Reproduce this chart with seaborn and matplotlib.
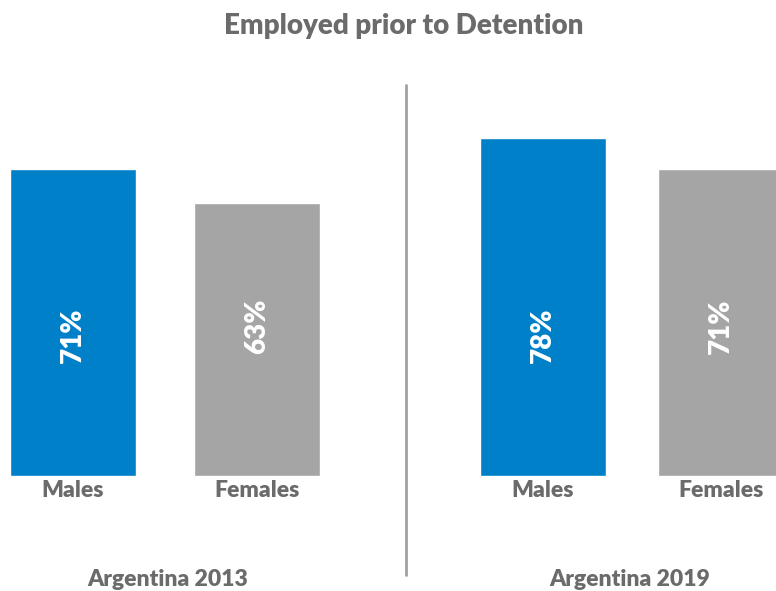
import matplotlib
matplotlib.use("Agg")
import matplotlib.pyplot as plt
import seaborn as sns
import pandas as pd

# Share of people employed prior to detention (%)
groups = ["Males", "Females"]
values_2013 = [71, 63]
values_2019 = [78, 71]
panel_titles = ["Argentina 2013", "Argentina 2019"]

BLUE = "#0080C9"
GREY = "#A5A5A5"
TEXT = "#6B6B6B"

sns.set_theme(style="white")
plt.rcParams["font.family"] = ["Lato", "DejaVu Sans"]

W, H = 776, 591
fig = plt.figure(figsize=(W / 100, H / 100), dpi=100)


def px_axes(x0, x1, y_top, y_bot):
    return fig.add_axes([x0 / W, 1 - y_bot / H, (x1 - x0) / W, (y_bot - y_top) / H])


base_y = 476
top_y = 43  # 100 % level

ax1 = px_axes(0, 406, top_y, base_y)
ax2 = px_axes(406, 776, top_y, base_y)

panels = [
    (ax1, values_2013, 0.685, (-0.397, 1.81)),
    (ax2, values_2019, 0.708, (-0.77, 1.309)),
]

for ax, vals, width, xlim in panels:
    df = pd.DataFrame({"group": groups, "value": vals})
    sns.barplot(data=df, x="group", y="value", hue="group",
                palette=[BLUE, GREY], width=width, ax=ax,
                legend=False, saturation=1)
    ax.set_xlim(*xlim)
    ax.set_ylim(0, 100)
    ax.set_xlabel("")
    ax.set_ylabel("")
    ax.set_yticks([])
    for s in ax.spines.values():
        s.set_visible(False)
    ax.tick_params(axis="x", length=0, pad=3)
    for lab in ax.get_xticklabels():
        lab.set_fontsize(16.5)
        lab.set_fontweight("heavy")
        lab.set_color(TEXT)
    for i, (bar, v) in enumerate(zip(ax.patches, vals)):
        cx = bar.get_x() + bar.get_width() / 2
        ymid = 32.5 if i == 0 else 34.5
        ax.text(cx, ymid, f"{v}%", rotation=90, ha="center", va="center",
                color="white", fontsize=20, fontweight="heavy")
    ax.patch.set_alpha(0)

fig.text(404 / W, 1 - 26 / H, "Employed prior to Detention", ha="center",
         va="center", fontsize=20, fontweight="heavy", color=TEXT)
fig.text(168 / W, 1 - 579 / H, panel_titles[0], ha="center", va="center",
         fontsize=16.5, fontweight="heavy", color=TEXT)
fig.text(630 / W, 1 - 579 / H, panel_titles[1], ha="center", va="center",
         fontsize=16.5, fontweight="heavy", color=TEXT)

# vertical divider between the two years
fig.add_artist(plt.Line2D([406 / W, 406 / W], [1 - 85 / H, 1 - 575 / H],
                          color="#A0A0A0", linewidth=2))

fig.savefig("out.png", dpi=100, facecolor="white")
